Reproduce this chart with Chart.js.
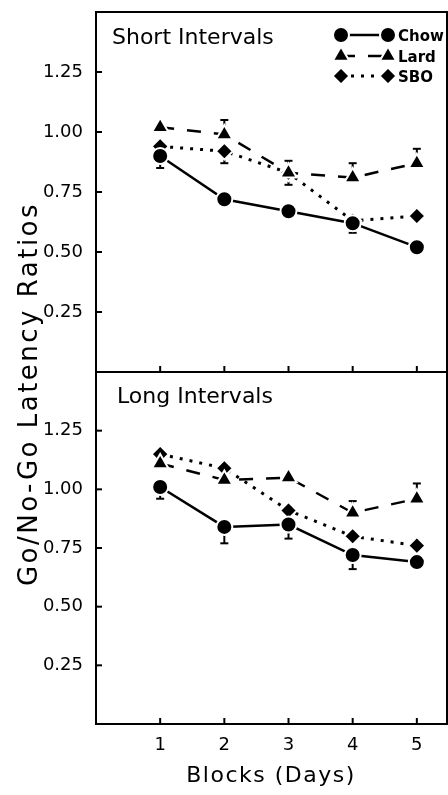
<!DOCTYPE html>
<html>
<head>
<meta charset="utf-8">
<title>Go/No-Go Latency Ratios</title>
<script src="https://cdn.jsdelivr.net/npm/chart.js@4.4.1/dist/chart.umd.min.js"></script>
<style>
  html, body { margin: 0; padding: 0; background: #fff; }
  #wrap { width: 448px; height: 795px; }
</style>
</head>
<body>
<div id="wrap"><canvas id="latencyChart" width="448" height="795"></canvas></div>
<script>
// Go/No-Go latency ratios by diet, short vs long intervals (two stacked panels).
var blocks = [1, 2, 3, 4, 5];
var yTicks = [0.25, 0.5, 0.75, 1.0, 1.25];
var seriesNames = ['Chow', 'Lard', 'SBO'];

var shortChow = [0.90, 0.72, 0.67, 0.62, 0.52];
var shortLard = [1.02, 0.99, 0.83, 0.81, 0.87];
var shortSbo  = [0.94, 0.92, 0.83, 0.63, 0.65];

var longChow = [1.01, 0.84, 0.85, 0.72, 0.69];
var longLard = [1.11, 1.04, 1.05, 0.90, 0.96];
var longSbo  = [1.15, 1.09, 0.91, 0.80, 0.76];

// one-sided SEM bars: + is drawn up, - is drawn down, null = none
var shortChowErr = [-0.05, null, null, -0.04, null];
var shortLardErr = [null, 0.06, 0.05, 0.06, 0.06];
var shortSboErr  = [null, -0.05, -0.05, null, null];

var longChowErr = [-0.05, -0.07, -0.06, -0.06, null];
var longLardErr = [null, null, null, 0.05, 0.065];
var longSboErr  = [null, null, null, null, null];

(function () {
    var ink = '#000';
    var numFont = "'DejaVu Sans', 'Open Sans', sans-serif";

    var styles = {
        Chow: { borderWidth: 2.5, borderDash: [], pointStyle: 'circle', pointRadius: 8 },
        Lard: { borderWidth: 2.5, borderDash: [14, 13], pointStyle: 'triangle', pointRadius: 9.5 },
        SBO:  { borderWidth: 3, borderDash: [3, 7], pointStyle: 'rectRot', pointRadius: 8.5 }
    };

    function series(name, axis, values, errs) {
        var s = styles[name];
        return {
            label: name,
            yAxisID: axis,
            data: blocks.map(function (b, i) { return { x: b, y: values[i] }; }),
            errors: errs,
            borderColor: ink,
            backgroundColor: ink,
            borderWidth: s.borderWidth,
            borderDash: s.borderDash,
            pointStyle: s.pointStyle,
            pointRadius: s.pointRadius,
            pointHoverRadius: s.pointRadius,
            pointBackgroundColor: ink,
            pointBorderColor: '#fff',
            pointBorderWidth: 2,
            tension: 0,
            fill: false
        };
    }

    function line(ctx, x1, y1, x2, y2) {
        ctx.beginPath(); ctx.moveTo(x1, y1); ctx.lineTo(x2, y2); ctx.stroke();
    }

    function label(ctx, str, x, y, font, align, spacing) {
        ctx.save();
        ctx.font = font;
        ctx.fillStyle = ink;
        ctx.textAlign = align;
        ctx.textBaseline = 'alphabetic';
        if ('letterSpacing' in ctx) ctx.letterSpacing = (spacing || 0) + 'px';
        ctx.fillText(str, x, y);
        ctx.restore();
    }

    var panelPlugin = {
        id: 'panels',
        beforeDatasetsDraw: function (chart) {
            var ctx = chart.ctx;
            ctx.save();
            ctx.strokeStyle = ink;
            ctx.lineWidth = 2;
            chart.data.datasets.forEach(function (d, i) {
                var meta = chart.getDatasetMeta(i);
                var ys = chart.scales[d.yAxisID];
                d.errors.forEach(function (e, j) {
                    if (e === null) return;
                    var pt = meta.data[j];
                    var yEnd = ys.getPixelForValue(d.data[j].y + e);
                    line(ctx, pt.x, pt.y, pt.x, yEnd);
                    line(ctx, pt.x - 4, yEnd, pt.x + 4, yEnd);
                });
            });
            ctx.restore();
        },
        afterDraw: function (chart) {
            var ctx = chart.ctx;
            var a = chart.chartArea;
            var xs = chart.scales.x;
            var mid = chart.scales.yShort.bottom;

            ctx.save();
            ctx.strokeStyle = ink;
            ctx.lineWidth = 2;
            ctx.strokeRect(a.left, a.top, a.right - a.left, a.bottom - a.top);
            line(ctx, a.left, mid, a.right, mid);

            // inward tick marks
            [chart.scales.yShort, chart.scales.yLong].forEach(function (s) {
                s.ticks.forEach(function (t) {
                    var p = s.getPixelForValue(t.value);
                    line(ctx, a.left, p, a.left + 6, p);
                });
            });
            xs.ticks.forEach(function (t) {
                var p = xs.getPixelForValue(t.value);
                line(ctx, p, mid, p, mid - 6);
                line(ctx, p, a.bottom, p, a.bottom - 6);
            });
            ctx.restore();

            // panel titles and axis titles
            label(ctx, 'Short Intervals', a.left + 16, a.top + 32, "22px 'DejaVu Sans'", 'left', 0);
            label(ctx, 'Long Intervals', a.left + 21, mid + 31, "22px 'DejaVu Sans'", 'left', 0);
            label(ctx, 'Blocks (Days)', 271, 782, "22px 'DejaVu Sans'", 'center', 1.5);

            ctx.save();
            ctx.translate(37, 394);
            ctx.rotate(-Math.PI / 2);
            label(ctx, 'Go/No-Go Latency Ratios', 0, 0, "26px 'DejaVu Sans'", 'center', 2.5);
            ctx.restore();

            // legend: marker - line - marker, name
            var rowY = [35, 56, 76];
            seriesNames.forEach(function (name, k) {
                var d = chart.data.datasets[k];
                var y = rowY[k];
                ctx.save();
                ctx.strokeStyle = ink;
                ctx.lineWidth = d.borderWidth;
                ctx.setLineDash(d.borderDash);
                line(ctx, 341, y, 388, y);
                ctx.setLineDash([]);
                ctx.fillStyle = ink;
                ctx.strokeStyle = '#fff';
                ctx.lineWidth = 2;
                [341, 388].forEach(function (px) {
                    Chart.helpers.drawPoint(ctx, {
                        pointStyle: d.pointStyle, radius: d.pointRadius, rotation: 0, borderWidth: 2
                    }, px, y);
                });
                ctx.restore();
                label(ctx, name, 398, y + 6, "bold 15px 'DejaVu Sans'", 'left', 0);
            });
        }
    };

    function yAxis(weight) {
        return {
            type: 'linear',
            position: 'left',
            stack: 'panels',
            stackWeight: weight,
            min: 0,
            max: 1.5,
            afterBuildTicks: function (s) { s.ticks = yTicks.map(function (v) { return { value: v }; }); },
            afterFit: function (s) { s.width = 96; s.paddingTop = 0; s.paddingBottom = 0; },
            grid: { display: false, drawTicks: false },
            border: { display: false },
            ticks: {
                padding: 13,
                color: ink,
                font: { family: numFont, size: 18 },
                callback: function (v) { return v.toFixed(2); }
            }
        };
    }

    new Chart(document.getElementById('latencyChart'), {
        type: 'line',
        data: {
            datasets: [
                series('Chow', 'yShort', shortChow, shortChowErr),
                series('Lard', 'yShort', shortLard, shortLardErr),
                series('SBO', 'yShort', shortSbo, shortSboErr),
                series('Chow', 'yLong', longChow, longChowErr),
                series('Lard', 'yLong', longLard, longLardErr),
                series('SBO', 'yLong', longSbo, longSboErr)
            ]
        },
        options: {
            responsive: false,
            animation: false,
            events: [],
            layout: { autoPadding: false, padding: { top: 12, right: 1, left: 0, bottom: 0 } },
            plugins: { legend: { display: false }, tooltip: { enabled: false } },
            scales: {
                x: {
                    type: 'linear',
                    position: 'bottom',
                    min: 0,
                    max: 5.47,
                    afterBuildTicks: function (s) { s.ticks = blocks.map(function (v) { return { value: v }; }); },
                    afterFit: function (s) { s.height = 71; s.paddingLeft = 0; s.paddingRight = 0; },
                    grid: { display: false, drawTicks: false },
                    border: { display: false },
                    ticks: {
                        padding: 11,
                        color: ink,
                        font: { family: numFont, size: 18 }
                    }
                },
                yLong: yAxis(352),
                yShort: yAxis(360)
            }
        },
        plugins: [panelPlugin]
    });
})();
</script>
</body>
</html>
